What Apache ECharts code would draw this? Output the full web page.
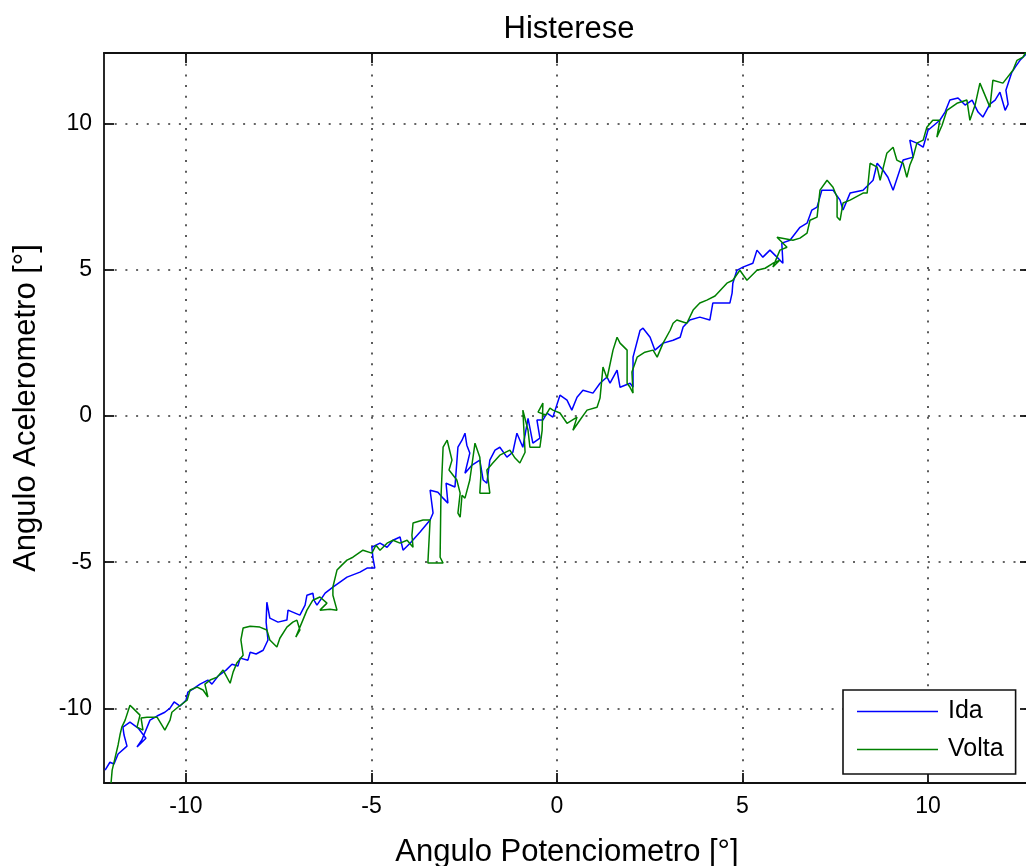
<!DOCTYPE html>
<html>
<head>
<meta charset="utf-8">
<title>Histerese</title>
<script src="https://cdn.jsdelivr.net/npm/echarts@6/dist/echarts.min.js"></script>
<style>
  html, body { margin: 0; padding: 0; background: #fff; }
  #chart { width: 1026px; height: 866px; }
</style>
</head>
<body>
<div id="chart"></div>
<script>
// Tick positions on both axes (degrees)
const xTicks = [-10, -5, 0, 5, 10];
const yTicks = [-10, -5, 0, 5, 10];

// Axis limits (tight around the recorded sweep)
const xRange = [-12.21, 12.75];
const yRange = [-12.55, 12.41];

// Forward sweep: [potentiometer angle, accelerometer angle]
const ida = [
  [-12.18,-12.11],[-12.05,-11.84],[-11.94,-11.90],[-11.83,-11.56],[-11.59,-11.29],[-11.67,-10.91],
  [-11.70,-10.64],[-11.51,-10.47],[-11.29,-10.67],[-11.08,-11.02],[-11.32,-11.32],[-11.19,-11.08],
  [-10.97,-10.40],[-10.78,-10.26],[-10.57,-10.13],[-10.43,-9.99],[-10.32,-9.78],[-10.16,-9.92],
  [-10.00,-9.72],[-9.95,-9.44],[-9.78,-9.31],[-9.62,-9.17],[-9.41,-9.03],[-9.30,-9.17],
  [-9.14,-8.90],[-8.92,-8.69],[-8.76,-8.49],[-8.60,-8.55],[-8.54,-8.28],[-8.33,-8.35],
  [-8.27,-8.08],[-8.11,-8.14],[-7.92,-8.01],[-7.79,-7.66],[-7.84,-7.05],[-7.82,-6.37],
  [-7.74,-6.91],[-7.52,-7.05],[-7.28,-6.98],[-7.25,-6.64],[-7.06,-6.74],[-6.93,-6.81],
  [-6.79,-6.47],[-6.74,-6.13],[-6.58,-6.06],[-6.55,-6.30],[-6.47,-6.47],[-6.25,-6.06],
  [-6.04,-5.85],[-5.85,-5.68],[-5.66,-5.51],[-5.31,-5.34],[-5.12,-5.20],[-4.91,-5.20],
  [-4.96,-4.86],[-4.99,-4.49],[-4.77,-4.35],[-4.58,-4.49],[-4.42,-4.25],[-4.23,-4.14],
  [-4.15,-4.59],[-3.96,-4.35],[-3.69,-3.97],[-3.42,-3.56],[-3.34,-3.32],[-3.42,-2.54],
  [-3.21,-2.61],[-3.07,-2.81],[-2.94,-2.98],[-2.99,-2.30],[-2.75,-2.43],[-2.67,-1.07],
  [-2.56,-0.83],[-2.48,-0.59],[-2.43,-1.00],[-2.35,-1.27],[-2.48,-1.96],[-2.29,-1.68],
  [-2.08,-1.51],[-1.99,-2.19],[-1.89,-2.30],[-1.81,-1.51],[-1.67,-1.17],[-1.54,-1.07],
  [-1.35,-1.41],[-1.19,-1.24],[-1.08,-0.59],[-1.00,-0.83],[-0.92,-1.07],[-0.78,-0.08],
  [-0.65,-0.93],[-0.46,-0.76],[-0.54,-0.14],[-0.38,-0.14],[-0.27,0.10],[-0.11,-0.04],
  [0.08,0.71],[0.27,0.54],[0.40,0.20],[0.54,0.64],[0.70,0.88],[0.97,0.78],
  [1.16,1.12],[1.35,1.33],[1.43,1.12],[1.62,1.57],[1.70,0.98],[1.97,1.12],
  [2.05,0.98],[2.05,2.01],[2.24,2.93],[2.32,3.00],[2.51,2.69],[2.64,2.25],
  [2.86,2.49],[3.13,2.59],[3.32,2.69],[3.40,3.04],[3.58,3.28],[3.85,3.38],
  [4.12,3.28],[4.20,3.86],[4.66,3.86],[4.72,4.20],[4.74,4.54],[4.85,4.98],
  [5.01,5.09],[5.28,5.22],[5.39,5.67],[5.55,5.43],[5.74,5.67],[5.93,5.43],
  [6.09,5.22],[6.06,5.91],[6.28,6.01],[6.55,6.45],[6.74,6.59],[6.87,7.04],
  [7.01,7.14],[7.14,7.72],[7.44,7.72],[7.63,7.38],[7.71,7.04],[7.90,7.62],
  [8.25,7.72],[8.52,8.06],[8.63,8.64],[8.79,8.40],[8.92,8.16],[9.06,7.72],
  [9.33,8.75],[9.60,8.85],[9.51,9.43],[9.70,9.33],[9.87,9.19],[10.00,9.77],
  [10.32,10.11],[10.46,10.39],[10.59,10.80],[10.81,10.87],[11.00,10.63],[11.19,10.80],
  [11.35,10.39],[11.48,10.22],[11.67,10.66],[11.81,10.80],[11.94,11.07],[12.08,10.45],
  [12.16,10.66],[12.10,11.14],[12.26,11.75],[12.37,11.96],[12.48,12.16],[12.64,12.37]
];

// Return sweep: [potentiometer angle, accelerometer angle]
const volta = [
  [12.64,12.44],[12.56,12.27],[12.40,12.16],[12.29,11.82],[12.02,11.38],[11.75,11.48],
  [11.67,10.56],[11.40,11.38],[11.27,10.63],[11.13,10.11],[11.05,10.80],[10.78,10.69],
  [10.51,10.45],[10.38,9.94],[10.24,9.53],[10.32,10.11],[10.13,10.11],[9.97,9.87],
  [9.87,9.43],[9.70,9.33],[9.60,8.85],[9.51,8.57],[9.43,8.16],[9.33,8.64],
  [9.16,8.75],[9.06,9.19],[8.89,8.98],[8.71,8.06],[8.63,8.51],[8.44,8.64],
  [8.36,7.62],[8.25,7.62],[7.90,7.38],[7.71,7.28],[7.63,6.69],[7.55,6.80],
  [7.55,7.48],[7.44,7.82],[7.28,8.06],[7.09,7.72],[7.01,6.80],[6.82,6.69],
  [6.74,6.25],[6.55,6.08],[6.36,6.01],[5.93,6.11],[6.20,5.77],[6.01,5.67],
  [5.82,5.09],[6.01,5.33],[5.82,5.22],[5.61,5.05],[5.39,4.98],[5.12,4.64],
  [4.93,4.98],[4.74,4.64],[4.58,4.54],[4.26,4.10],[4.04,3.96],[3.85,3.86],
  [3.67,3.62],[3.50,3.17],[3.23,3.28],[3.13,3.17],[3.05,2.93],[2.86,2.49],
  [2.70,2.01],[2.59,2.25],[2.37,2.18],[2.16,2.01],[2.02,1.50],[2.05,0.78],
  [1.97,0.98],[1.89,1.12],[1.89,2.25],[1.70,2.49],[1.62,2.69],[1.51,2.25],
  [1.35,1.29],[1.24,1.67],[1.16,0.61],[1.08,0.30],[0.81,0.20],[0.62,-0.14],
  [0.43,-0.49],[0.54,-0.04],[0.27,-0.25],[0.08,0.10],[-0.11,0.20],[-0.19,0.27],
  [-0.30,0.03],[-0.51,0.13],[-0.38,0.44],[-0.40,-0.49],[-0.46,-1.07],[-0.73,-1.07],
  [-0.78,-0.49],[-0.92,0.20],[-0.86,-1.24],[-1.00,-1.61],[-1.13,-1.44],[-1.27,-1.17],
  [-1.54,-1.34],[-1.73,-1.61],[-1.89,-1.85],[-1.81,-2.64],[-2.08,-2.64],[-2.05,-2.02],
  [-2.08,-1.41],[-2.21,-0.93],[-2.35,-2.19],[-2.48,-2.81],[-2.56,-2.71],[-2.61,-3.46],
  [-2.67,-3.32],[-2.61,-2.64],[-2.70,-2.19],[-2.91,-1.85],[-2.83,-1.51],[-2.96,-0.83],
  [-3.07,-1.07],[-3.13,-2.88],[-3.15,-4.83],[-3.07,-5.03],[-3.34,-5.03],[-3.48,-5.03],
  [-3.42,-3.56],[-3.61,-3.56],[-3.88,-3.66],[-3.91,-4.08],[-3.88,-4.49],[-4.04,-4.25],
  [-4.23,-4.35],[-4.42,-4.25],[-4.58,-4.35],[-4.77,-4.59],[-4.88,-4.42],[-4.99,-4.69],
  [-5.23,-4.59],[-5.50,-4.83],[-5.66,-4.93],[-5.80,-5.10],[-5.93,-5.27],[-6.04,-5.85],
  [-6.04,-6.13],[-5.93,-6.64],[-6.12,-6.61],[-6.39,-6.64],[-6.20,-6.40],[-6.39,-6.19],
  [-6.58,-6.30],[-6.74,-6.64],[-6.85,-6.98],[-7.04,-7.56],[-6.93,-7.32],[-7.01,-6.98],
  [-7.12,-7.05],[-7.28,-7.22],[-7.47,-7.60],[-7.55,-7.90],[-7.74,-7.66],[-7.82,-7.32],
  [-8.01,-7.22],[-8.27,-7.19],[-8.46,-7.25],[-8.52,-7.66],[-8.46,-8.18],[-8.63,-8.45],
  [-8.73,-8.76],[-8.81,-9.14],[-9.00,-8.69],[-9.16,-8.93],[-9.35,-9.03],[-9.49,-9.17],
  [-9.41,-9.61],[-9.54,-9.37],[-9.70,-9.27],[-9.89,-9.37],[-9.97,-9.72],[-10.22,-9.96],
  [-10.38,-10.13],[-10.43,-10.40],[-10.57,-10.74],[-10.65,-10.57],[-10.78,-10.30],[-11.05,-10.30],
  [-11.21,-10.33],[-11.16,-10.74],[-11.32,-10.64],[-11.24,-10.23],[-11.43,-9.99],[-11.51,-9.89],
  [-11.64,-10.40],[-11.73,-10.64],[-11.78,-10.91],[-11.83,-11.25],[-11.99,-12.11],[-12.02,-12.55]
];

const font = '"Liberation Sans", Arial, Helvetica, sans-serif';
const ink = '#000';
const frame = { color: '#111', width: 1.8 };
const dotted = { color: '#333', width: 1.6, type: [2, 8.7] };

function frameAxis(position, ticks, range) {
  return {
    type: 'value',
    position: position,
    min: range[0],
    max: range[1],
    axisLine: { show: true, onZero: false, lineStyle: frame },
    axisTick: { show: true, inside: true, length: 10, customValues: ticks, lineStyle: frame },
    axisLabel: { show: false },
    splitLine: { show: false }
  };
}

const chart = echarts.init(document.getElementById('chart'), null, { renderer: 'canvas' });

chart.setOption({
  animation: false,
  backgroundColor: '#fff',
  textStyle: { fontFamily: font },
  title: {
    text: 'Histerese',
    left: 564,
    top: 9,
    textAlign: 'center',
    textStyle: { fontFamily: font, fontSize: 31, fontWeight: 'normal', color: ink }
  },
  grid: { left: 104, top: 53, width: 926, height: 730, containLabel: false, outerBoundsMode: 'none' },
  legend: {
    data: ['Ida', 'Volta'],
    orient: 'vertical',
    left: 843,
    top: 690,
    padding: [9, 12, 12, 14],
    itemWidth: 81,
    itemHeight: 1.5,
    itemGap: 13,
    icon: 'rect',
    selectedMode: false,
    backgroundColor: '#fff',
    borderColor: '#111',
    borderWidth: 1.6,
    borderRadius: 0,
    textStyle: { fontFamily: font, fontSize: 25, color: ink, padding: [0, 0, 0, 5] }
  },
  xAxis: [
    {
      type: 'value',
      position: 'bottom',
      min: xRange[0],
      max: xRange[1],
      name: 'Angulo Potenciometro [°]',
      nameLocation: 'middle',
      nameGap: 54,
      nameTextStyle: { fontFamily: font, fontSize: 31, color: ink },
      axisLine: { show: true, onZero: false, lineStyle: frame },
      axisTick: { show: true, inside: true, length: 10, customValues: xTicks, lineStyle: frame },
      axisLabel: { customValues: xTicks, margin: 12, fontSize: 23, color: ink, fontFamily: font },
      splitLine: { show: true, lineStyle: dotted }
    },
    frameAxis('top', xTicks, xRange)
  ],
  yAxis: [
    {
      type: 'value',
      position: 'left',
      min: yRange[0],
      max: yRange[1],
      name: 'Angulo Acelerometro [°]',
      nameLocation: 'middle',
      nameGap: 62,
      nameRotate: 90,
      nameTextStyle: { fontFamily: font, fontSize: 31, color: ink, padding: [0, 0, 0, 20] },
      axisLine: { show: true, onZero: false, lineStyle: frame },
      axisTick: { show: true, inside: true, length: 10, customValues: yTicks, lineStyle: frame },
      axisLabel: { customValues: yTicks, margin: 12, fontSize: 23, color: ink, fontFamily: font },
      splitLine: { show: true, lineStyle: dotted }
    },
    frameAxis('right', yTicks, yRange)
  ],
  series: [
    {
      name: 'Ida',
      type: 'line',
      xAxisIndex: 0,
      yAxisIndex: 0,
      data: ida,
      symbol: 'none',
      showSymbol: false,
      lineStyle: { color: '#0000ff', width: 1.5 },
      itemStyle: { color: '#0000ff' }
    },
    {
      name: 'Volta',
      type: 'line',
      xAxisIndex: 0,
      yAxisIndex: 0,
      data: volta,
      symbol: 'none',
      showSymbol: false,
      lineStyle: { color: '#008000', width: 1.5 },
      itemStyle: { color: '#008000' }
    }
  ]
});
</script>
</body>
</html>
